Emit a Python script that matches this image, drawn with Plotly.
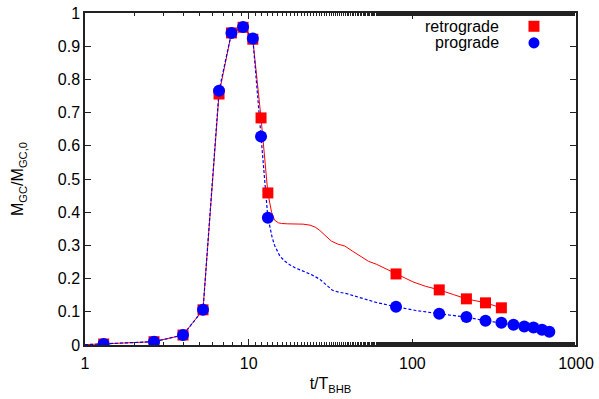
import plotly.graph_objects as go

# ---- data ----
t_retro = [1.30, 2.64, 3.97, 5.26, 6.59, 7.85, 9.24, 10.6, 11.9, 13.1, 79.5, 146, 214, 280, 350]
m_retro = [0.003, 0.010, 0.030, 0.106, 0.756, 0.940, 0.957, 0.921, 0.684, 0.458, 0.214, 0.166, 0.139, 0.127, 0.112]

t_pro = [1.30, 2.64, 3.97, 5.26, 6.59, 7.85, 9.24, 10.6, 11.9, 13.1, 79.5, 146, 214, 280, 350, 415, 483, 550, 620, 687]
m_pro = [0.003, 0.010, 0.030, 0.106, 0.766, 0.940, 0.958, 0.923, 0.628, 0.383, 0.115, 0.094, 0.084, 0.073, 0.067, 0.061, 0.056, 0.053, 0.046, 0.040]

t_retro_curve = [1.0, 1.30, 2.64, 3.97, 5.26, 6.59, 7.85, 9.24, 10.6, 11.9, 13.1, 13.8, 14.4, 15.2, 15.9, 17.2, 18.7, 21.5, 23.7, 25.5, 27.2,
                 29.5, 32.0, 35.0, 38.7, 43.0, 49.0, 54.0, 60.5, 70.0, 79.5, 90.0, 101, 120, 146, 178, 214, 280, 350]
m_retro_curve = [0.001, 0.003, 0.010, 0.030, 0.106, 0.756, 0.940, 0.957, 0.921, 0.684, 0.458, 0.400, 0.376, 0.368, 0.366, 0.365, 0.365, 0.364, 0.361, 0.355, 0.345,
                 0.328, 0.313, 0.304, 0.298, 0.283, 0.264, 0.252, 0.243, 0.228, 0.214, 0.201, 0.190, 0.177, 0.166, 0.152, 0.139, 0.127, 0.112]

t_pro_curve = [1.0, 1.30, 2.64, 3.97, 5.26, 6.59, 7.85, 9.24, 10.6, 11.9, 13.1, 13.5, 13.9, 14.4, 15.0, 15.5, 16.5, 17.8, 19.3, 21.0, 24.2, 27.2,
               29.0, 30.6, 32.5, 35.5, 39.6, 44.0, 49.0, 60.5, 79.5, 105, 146, 214, 280, 350, 415, 483, 550, 620, 687]
m_pro_curve = [0.001, 0.003, 0.010, 0.030, 0.106, 0.766, 0.940, 0.958, 0.923, 0.628, 0.383, 0.355, 0.325, 0.300, 0.280, 0.268, 0.254, 0.242, 0.232, 0.225, 0.212, 0.198,
               0.186, 0.175, 0.165, 0.159, 0.155, 0.148, 0.141, 0.128, 0.115, 0.104, 0.094, 0.084, 0.073, 0.067, 0.061, 0.056, 0.053, 0.046, 0.040]

y_ticks = [0, 0.1, 0.2, 0.3, 0.4, 0.5, 0.6, 0.7, 0.8, 0.9, 1]
y_tick_labels = ["0", "0.1", "0.2", "0.3", "0.4", "0.5", "0.6", "0.7", "0.8", "0.9", "1"]
x_ticks = [1, 10, 100, 1000]
x_tick_labels = ["1", "10", "100", "1000"]
series_names = ["retrograde", "prograde"]

RED = "#ff0000"
BLUE = "#0000ff"
FONT = "Liberation Sans, Arial, sans-serif"

fig = go.Figure()
fig.add_trace(go.Scatter(x=t_retro_curve, y=m_retro_curve, mode="lines",
                         line=dict(color=RED, width=1), showlegend=False))
fig.add_trace(go.Scatter(x=t_pro_curve, y=m_pro_curve, mode="lines",
                         line=dict(color=BLUE, width=1.2, dash="3px,2px"), showlegend=False))
fig.add_trace(go.Scatter(x=t_retro, y=m_retro, mode="markers", name=series_names[0],
                         marker=dict(symbol="square", size=11, color=RED), showlegend=False))
fig.add_trace(go.Scatter(x=t_pro, y=m_pro, mode="markers", name=series_names[1],
                         marker=dict(symbol="circle", size=12, color=BLUE), showlegend=False))

# legend: text right-aligned with key symbol on the right (gnuplot style)
leg_y = [0.96, 0.91]
for name, yy in zip(series_names, leg_y):
    fig.add_annotation(x=0.848, y=yy, xref="paper", yref="paper", text=name, showarrow=False,
                       xanchor="right", yanchor="middle", font=dict(size=16, color="#000", family=FONT))
dx, dy = 0.0112, 0.0166
fig.add_shape(type="rect", xref="paper", yref="paper", x0=0.9144 - dx, x1=0.9144 + dx,
              y0=leg_y[0] - dy, y1=leg_y[0] + dy, fillcolor=RED, line=dict(width=0))
fig.add_shape(type="circle", xref="paper", yref="paper", x0=0.9144 - dx, x1=0.9144 + dx,
              y0=leg_y[1] - dy, y1=leg_y[1] + dy, fillcolor=BLUE, line=dict(width=0))

axis_common = dict(showline=True, linecolor="#222", linewidth=1.5, mirror="allticks",
                   ticks="inside", ticklen=6, tickwidth=1, tickcolor="#222",
                   showgrid=False, zeroline=False, automargin=False,
                   tickfont=dict(size=16, color="#000", family=FONT))

fig.update_xaxes(type="log", range=[0, 3], tickvals=x_ticks, ticktext=x_tick_labels,
                 ticklabelstandoff=3,
                 minor=dict(ticks="inside", ticklen=3, tickcolor="#222", showgrid=False),
                 title=dict(text="t/T<sub>BHB</sub>", font=dict(size=16, color="#000", family=FONT), standoff=7),
                 **axis_common)
fig.update_yaxes(range=[0, 1], tickvals=y_ticks, ticktext=y_tick_labels,
                 title=dict(text="M<sub>GC</sub>/M<sub>GC,0</sub>", font=dict(size=16, color="#000", family=FONT), standoff=30),
                 **axis_common)

fig.update_layout(width=599, height=399, margin=dict(l=85, r=23, t=13, b=54),
                  plot_bgcolor="white", paper_bgcolor="white", showlegend=False,
                  font=dict(family=FONT, color="#000"))

fig.write_html("out.html")
